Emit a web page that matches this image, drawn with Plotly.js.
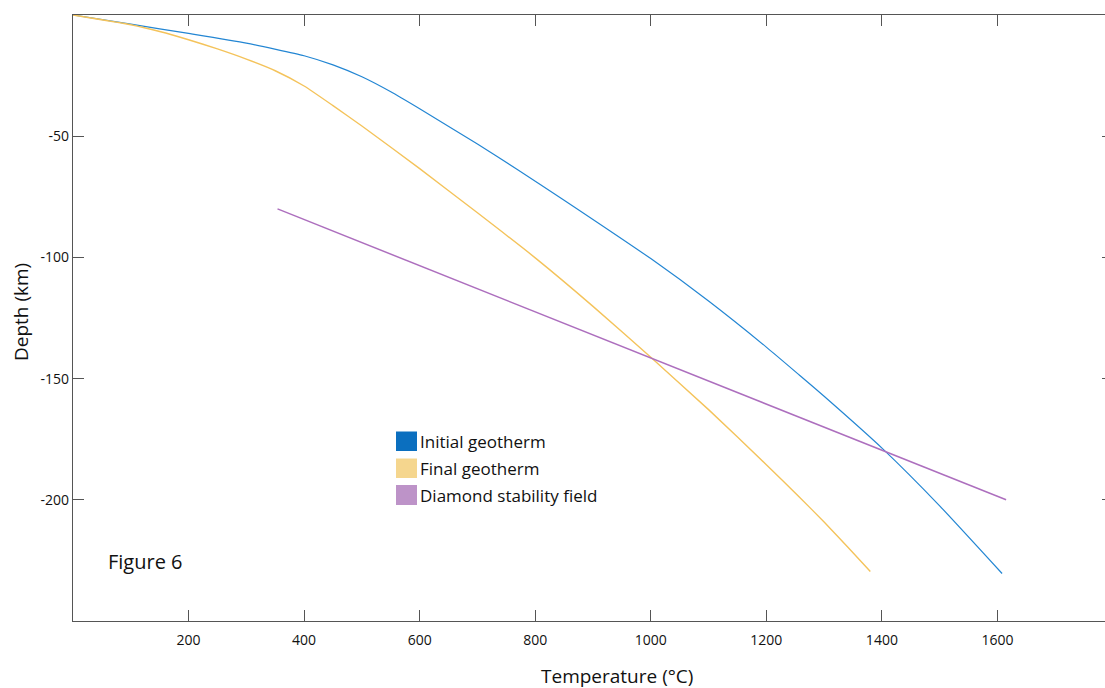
<!DOCTYPE html>
<html>
<head>
<meta charset="utf-8">
<script src="https://cdn.plot.ly/plotly-3.0.1.min.js"></script>
<style>
html,body{margin:0;padding:0;overflow:hidden;background:#fff;}
#chart{width:1115px;height:688px;}
</style>
</head>
<body>
<div id="chart"></div>
<script>
// Initial geotherm (blue)
const initialT = [0, 100, 200, 300, 400, 450, 500, 550, 600, 700, 767, 850, 1000, 1100, 1200, 1257, 1300, 1402, 1500, 1608];
const initialDepth = [0, -3.8, -7.6, -11.6, -16.8, -20.6, -25.5, -31.7, -38.7, -53.2, -63.4, -76.4, -100.5, -118.0, -137.0, -148.5, -157.3, -179.1, -202.5, -230.4];
// Final geotherm (yellow)
const finalT = [0, 100, 150, 200, 250, 300, 350, 400, 450, 500, 600, 700, 800, 900, 1000, 1100, 1200, 1257, 1300, 1340, 1380];
const finalDepth = [0, -4.0, -6.8, -10.2, -14.0, -18.2, -23.0, -29.3, -37.4, -45.8, -63.4, -81.6, -100.2, -120.2, -141.2, -162.8, -185.5, -198.8, -209.2, -219.3, -229.6];
// Diamond stability field (purple)
const diamondT = [354, 1615];
const diamondDepth = [-80, -200];

const xTicks = [200, 400, 600, 800, 1000, 1200, 1400, 1600];
const yTicks = [-50, -100, -150, -200];
const legendLabels = ["Initial geotherm", "Final geotherm", "Diamond stability field"];
const legendColors = ["#0b6fbf", "#f5d68e", "#bd93c8"];

const traces = [
  {x: initialT, y: initialDepth, mode: 'lines', line: {color: '#2386d3', width: 1.2, shape: 'spline', smoothing: 0.5}, name: legendLabels[0], showlegend: false},
  {x: finalT, y: finalDepth, mode: 'lines', line: {color: '#f4c35b', width: 1.4, shape: 'spline', smoothing: 0.5}, name: legendLabels[1], showlegend: false},
  {x: diamondT, y: diamondDepth, mode: 'lines', line: {color: '#ad6fbe', width: 1.5}, name: legendLabels[2], showlegend: false}
];

const P = (px) => (px - 73) / 1040;
const Q = (py) => (621 - py) / 606;

const patchY = [[431.5, 451], [458.5, 478], [485, 505]];
const shapes = patchY.map((yy, i) => ({
  type: 'rect', xref: 'paper', yref: 'paper',
  x0: P(396), x1: P(417), y0: Q(yy[1]), y1: Q(yy[0]),
  fillcolor: legendColors[i], line: {width: 0}
}));

const annotations = legendLabels.map((t, i) => ({
  text: t, xref: 'paper', yref: 'paper', x: P(418), y: Q((patchY[i][0] + patchY[i][1]) / 2),
  xanchor: 'left', yanchor: 'middle', showarrow: false,
  font: {family: 'Open Sans', size: 17, color: '#111'}
}));
annotations.push({
  text: 'Figure 6', xref: 'x', yref: 'y', x: 57, y: -225.5, xanchor: 'left', yanchor: 'middle',
  showarrow: false, font: {family: 'Open Sans', size: 20, color: '#111'}
});
annotations.push({
  text: 'Temperature (°C)', xref: 'paper', yref: 'paper', x: P(617), y: Q(676),
  xanchor: 'center', yanchor: 'middle', showarrow: false,
  font: {family: 'Open Sans', size: 19, color: '#111'}
});
annotations.push({
  text: 'Depth (km)', xref: 'paper', yref: 'paper', x: P(21), y: Q(312),
  xanchor: 'center', yanchor: 'middle', textangle: -90, showarrow: false,
  font: {family: 'Open Sans', size: 19, color: '#111'}
});

const layout = {
  width: 1115, height: 688,
  margin: {l: 73, r: 2, t: 15, b: 67, pad: 0},
  paper_bgcolor: '#fff', plot_bgcolor: '#fff',
  showlegend: false,
  font: {family: 'Open Sans', size: 14, color: '#111'},
  xaxis: {
    range: [0, 1800], tickvals: xTicks, ticktext: xTicks.map(String),
    ticks: 'inside', ticklen: 11, tickcolor: '#555', tickwidth: 1,
    showline: true, linecolor: '#555', linewidth: 1.2, mirror: 'ticks',
    showgrid: false, zeroline: false, tickfont: {size: 14, color: '#111'},
    ticklabelstandoff: 6,
    title: {text: ''}
  },
  yaxis: {
    range: [-250, 0], tickvals: yTicks, ticktext: yTicks.map(String),
    ticks: 'inside', ticklen: 11, tickcolor: '#555', tickwidth: 1,
    showline: true, linecolor: '#555', linewidth: 1.2, mirror: 'ticks',
    showgrid: false, zeroline: false, tickfont: {size: 14, color: '#111'},
    title: {text: ''}
  },
  shapes: shapes,
  annotations: annotations
};

Plotly.newPlot('chart', traces, layout, {displayModeBar: false, staticPlot: true});
</script>
</body>
</html>
